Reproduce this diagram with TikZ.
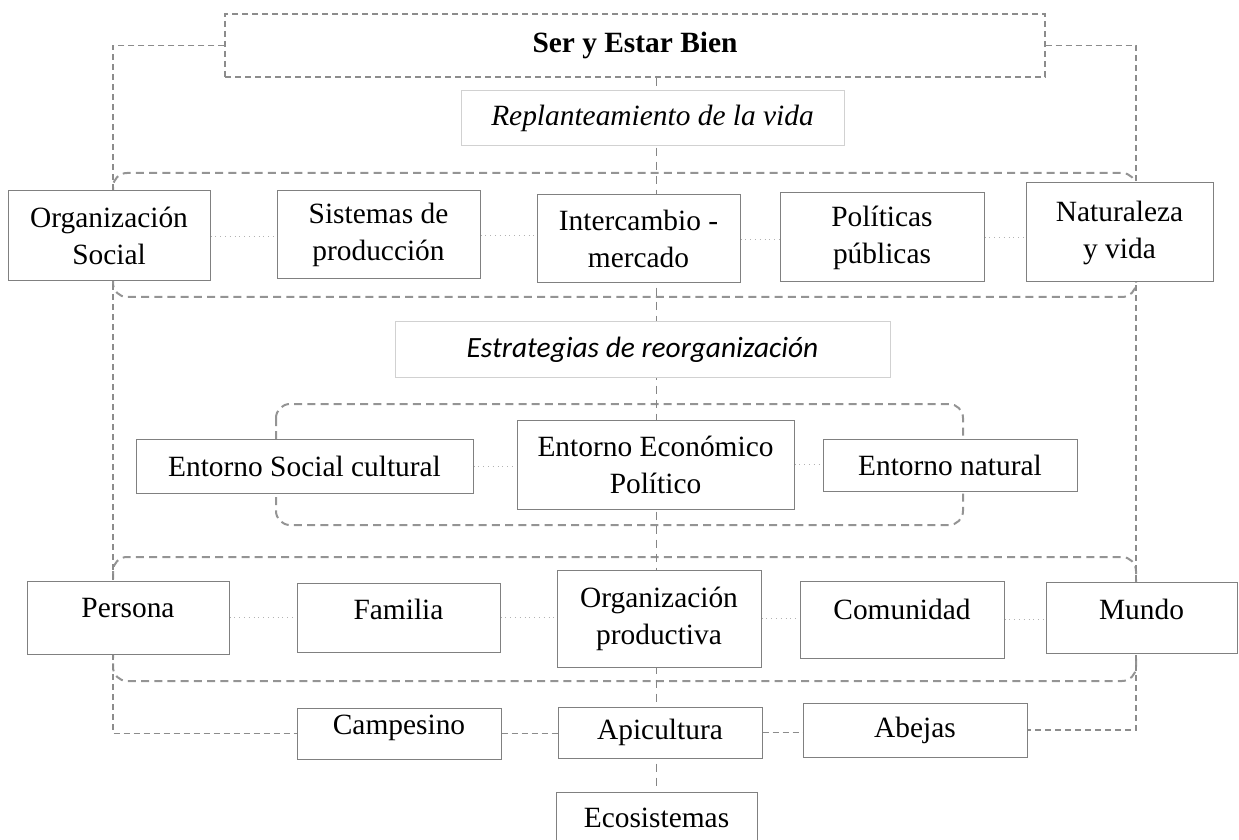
\documentclass[tikz,border=0pt]{standalone}
\usepackage{fontspec}
\setmainfont{Liberation Serif}
\newfontfamily\calib{Carlito}
\usetikzlibrary{backgrounds}

\tikzset{
	box/.style={draw=black!50,line width=.5pt,fill=white,align=center,inner sep=1pt,
		font=\fontsize{14.7}{18.5}\selectfont},
	bl/.style={text height=.7em,text depth=.7em},
	title/.style={box,draw=black!18},
	grp/.style={draw=black!42,line width=1pt,dash pattern=on 4pt off 2.6pt,rounded corners=7pt},
	link/.style={draw=black!45,line width=.6pt,dash pattern=on 3pt off 2pt},
	spine/.style={draw=black!48,line width=.9pt,dash pattern=on 4pt off 3pt},
	dot/.style={draw=black!30,line width=.4pt,dotted}
}

\begin{document}
\begin{tikzpicture}[x=.5pt,y=-.5pt]
		\useasboundingbox (0,0) rectangle (1239,840);
		% top
		\node[box,link,minimum width=410pt,minimum height=31.5pt](ser)at(635,45.5){\textbf{Ser y Estar Bien}};
		\node[title,minimum width=191.5pt,minimum height=27.5pt](repl)at(652.5,118.5){\textit{Replanteamiento de la vida}};
		% first row
		\node[box,minimum width=101pt,minimum height=45pt](os)at(109,236){Organización\\Social};
		\node[box,minimum width=101.5pt,minimum height=44pt](sp)at(378.5,235){Sistemas de\\producción};
		\node[box,minimum width=101.5pt,minimum height=44pt](inter)at(638.5,239){Intercambio -\\mercado};
		\node[box,minimum width=102pt,minimum height=44.5pt](pol)at(882,237.5){Políticas\\públicas};
		\node[box,minimum width=93.5pt,minimum height=49.5pt](nat)at(1119.5,232.5){Naturaleza\\y vida};
		\node[title,minimum width=247.5pt,minimum height=27.5pt](estr)at(642.5,349.5){\calib\itshape Estrategias de reorganización};
		% second row
		\node[box,minimum width=168.5pt,minimum height=27pt](esc)at(304.5,466){Entorno Social cultural};
		\node[box,minimum width=138.5pt,minimum height=44.5pt](eep)at(655.5,464.5){Entorno Económico\\Político};
		\node[box,minimum width=127pt,minimum height=26pt](enat)at(950,465){Entorno natural};
		% third row
		\node[box,bl,minimum width=101pt,minimum height=36.5pt](per)at(128,617.5){Persona};
		\node[box,bl,text height=.82em,text depth=.58em,minimum width=101.5pt,minimum height=34.5pt](fam)at(398.5,617.5){Familia};
		\node[box,minimum width=102pt,minimum height=48.5pt](orgp)at(659,618.5){Organización\\productiva};
		\node[box,bl,minimum width=102pt,minimum height=38.5pt](com)at(902,619.5){Comunidad};
		\node[box,bl,text height=.78em,text depth=.62em,minimum width=95.5pt,minimum height=35.5pt](mun)at(1141.5,617.5){Mundo};
		% bottom
		\node[box,bl,text height=.75em,text depth=.65em,minimum width=102pt,minimum height=25.5pt](camp)at(399,733.5){Campesino};
		\node[box,minimum width=102pt,minimum height=25.5pt](apic)at(660,732.5){Apicultura};
		\node[box,minimum width=112pt,minimum height=27pt](abej)at(915,730){Abejas};
		\node[box,minimum width=100.5pt,minimum height=26pt](eco)at(656.5,818){Ecosistemas};
		\coordinate(lft)at(113,0);
		\coordinate(rgt)at(1136,0);
		\begin{scope}[on background layer]
			\draw[grp](113,173)rectangle(1136,297);
			\draw[grp](276,404)rectangle(963,525);
			\draw[grp](113,557)rectangle(1136,681);
			\draw[spine](ser.south-|eco.north)--(eco.north);
			\draw[link](ser.west)-|(lft|-camp.west)--(camp.west);
			\draw[link](ser.east)-|(rgt|-abej.east)--(abej.east);
			\draw[link,line width=.8pt](camp.east)--(camp.east-|apic.west);
			\draw[link,line width=.8pt](apic.east)--(apic.east-|abej.west);
			\foreach \a/\b in {os/sp,sp/inter,inter/pol,pol/nat,esc/eep,eep/enat,per/fam,fam/orgp,orgp/com,com/mun}
				\draw[dot](\a.east)--(\a.east-|\b.west);
		\end{scope}
	\end{tikzpicture}
\end{document}
